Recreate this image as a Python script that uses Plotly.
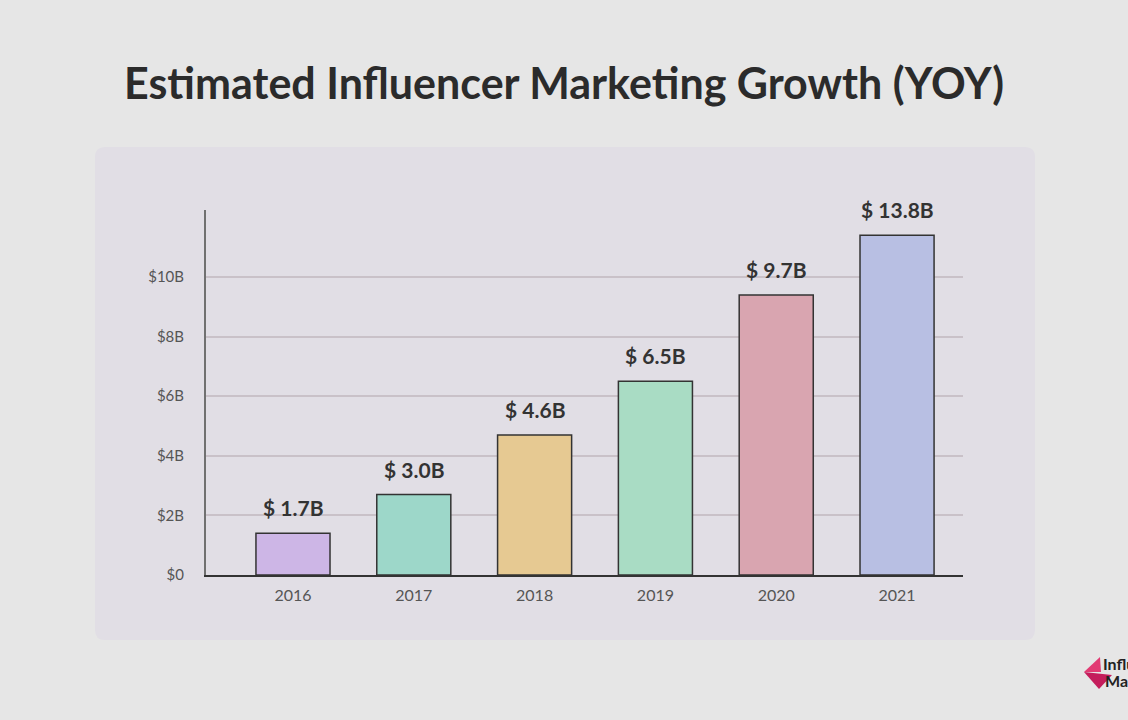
import plotly.graph_objects as go

years = ["2016", "2017", "2018", "2019", "2020", "2021"]
# bar heights as drawn on the axis (in $B)
bar_heights = [1.4, 2.7, 4.7, 6.5, 9.4, 11.4]
value_labels = ["$ 1.7B", "$ 3.0B", "$ 4.6B", "$ 6.5B", "$ 9.7B", "$ 13.8B"]
bar_colors = ["#cdb6e6", "#9dd7c9", "#e6c992", "#a9dcc4", "#d9a5b0", "#b8bfe3"]
y_tickvals = [0, 2, 4, 6, 8, 10]
y_ticktext = ["$0", "$2B", "$4B", "$6B", "$8B", "$10B"]
title_text = "Estimated Influencer Marketing Growth (YOY)"

W, H = 1128, 720
L, R, T, B = 206, 963, 210, 575  # plot area in px
pw, ph = R - L, B - T


def px(x):
    return (x - L) / pw


def py(y):
    return (B - y) / ph


xpos = list(range(len(years)))

fig = go.Figure()
fig.add_trace(go.Bar(
    x=xpos, y=bar_heights, width=0.613,
    marker=dict(color=bar_colors, line=dict(color="#333333", width=1.5)),
    hoverinfo="skip",
))

for xi, h, lab in zip(xpos, bar_heights, value_labels):
    fig.add_annotation(x=xi, y=h, text=f"<b>{lab}</b>", showarrow=False,
                       yanchor="bottom", yshift=11,
                       font=dict(family="Lato", size=21, color="#333333"))

# panel with rounded corners
x0, x1, y0, y1 = px(95), px(1035), py(640), py(147)
rx, ry = 10 / pw, 10 / ph
path = (f"M {x0+rx},{y0} L {x1-rx},{y0} Q {x1},{y0} {x1},{y0+ry} "
        f"L {x1},{y1-ry} Q {x1},{y1} {x1-rx},{y1} L {x0+rx},{y1} "
        f"Q {x0},{y1} {x0},{y1-ry} L {x0},{y0+ry} Q {x0},{y0} {x0+rx},{y0} Z")
fig.add_shape(type="path", path=path, xref="paper", yref="paper",
              fillcolor="#e1dee5", line=dict(width=0), layer="below")

# logo (cut off at the right edge, as in the reference)
fig.add_shape(type="path", xref="paper", yref="paper",
              path=f"M {px(1084)},{py(672)} L {px(1100)},{py(657)} L {px(1101)},{py(672)} Z",
              fillcolor="#e23a73", line=dict(width=0))
fig.add_shape(type="path", xref="paper", yref="paper",
              path=f"M {px(1084)},{py(672)} L {px(1112)},{py(675)} L {px(1099)},{py(689)} Z",
              fillcolor="#c41d5c", line=dict(width=0))
fig.add_annotation(xref="paper", yref="paper", x=px(1101), y=py(663), text="<b>Influencer</b>",
                   showarrow=False, xanchor="left", yanchor="middle",
                   font=dict(family="Lato", size=16, color="#222222"))
fig.add_annotation(xref="paper", yref="paper", x=px(1103), y=py(680), text="<b>Marketing Hub</b>",
                   showarrow=False, xanchor="left", yanchor="middle",
                   font=dict(family="Lato", size=16, color="#222222"))

fig.update_layout(
    width=W, height=H,
    margin=dict(l=L, r=W - R, t=T, b=H - B, pad=0),
    paper_bgcolor="#e6e6e6",
    plot_bgcolor="rgba(0,0,0,0)",
    showlegend=False,
    title=dict(text=f"<b>{title_text}</b>", x=0.5, xref="container", y=1 - 84 / H,
               yanchor="middle", xanchor="center",
               font=dict(family="Lato", size=43, color="#2b2b2b")),
    xaxis=dict(
        range=[-0.72, 5.546], tickvals=xpos, ticktext=years,
        showgrid=False, zeroline=False, showline=True, linecolor="#333333", linewidth=1.5,
        ticks="", ticklabelstandoff=5,
        tickfont=dict(family="Lato", size=16, color="#555555"),
    ),
    yaxis=dict(
        range=[0, 12.25], tickvals=y_tickvals, ticktext=y_ticktext,
        showgrid=True, gridcolor="#c9c1c8", gridwidth=1.5, zeroline=False,
        showline=True, linecolor="#707070", linewidth=2,
        ticks="", ticklabelstandoff=17,
        tickfont=dict(family="Lato", size=15, color="#555555"),
    ),
)

fig.write_html(
    "out.html",
    config={"displayModeBar": False},
    post_script="document.body.style.margin='0';document.body.style.background='#e6e6e6';",
)
